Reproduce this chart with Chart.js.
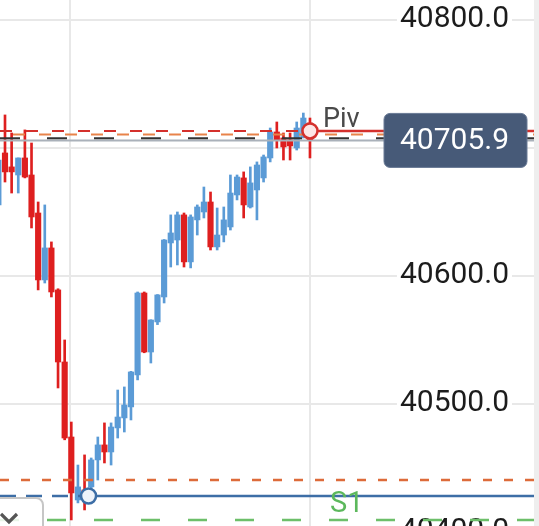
<!DOCTYPE html>
<html><head><meta charset="utf-8">
<script src="https://cdn.jsdelivr.net/npm/chart.js@4.4.0/dist/chart.umd.min.js"></script>
<style>
html,body{margin:0;padding:0;background:#eeeeee;overflow:hidden;width:539px;height:526px;}
#wrap{position:relative;width:539px;height:526px;overflow:hidden;}
#c{position:absolute;left:0;top:0;background:#ffffff;}
#btn{position:absolute;left:-12px;top:497px;width:52px;height:45px;border:2px solid #c6c6c6;border-radius:8px;background:rgba(255,255,255,0.85);}
#chev{position:absolute;left:0;top:510px;}
</style></head><body>
<div id="wrap">
<canvas id="c" width="534" height="560"></canvas>
<div id="btn"></div>
<svg id="chev" width="24" height="16"><polyline points="1,4 9,12 17,4" fill="none" stroke="#555" stroke-width="3.2"/></svg>
</div>
<script>
// candle index (time slot)
const candleIndex = [-1,0,1,2,3,4,5,6,7,8,9,10,11,12,13,14,15,16,17,18,19,20,21,22,23,24,25,26,27,28,29,30,31,32,33,34,35,36,37,38,39,40,41,42,43,44,45,46];
const opens  = [40655.5,40696.1,40685.2,40678.9,40692.2,40678.9,40649.2,40596.9,40621.9,40589.1,40532.8,40474.2,40425.0,40432.8,40435.2,40456.3,40468.0,40462.5,40481.3,40489.1,40497.7,40522.7,40586.7,40540.6,40564.1,40583.6,40625.8,40628.1,40647.7,40611.0,40643.8,40650.0,40657.8,40622.7,40632.0,40638.3,40663.3,40676.6,40653.9,40667.2,40676.6,40692.2,40712.5,40707.8,40706.3,40700.0,40708.6,40719.5];
const highs  = [40696.1,40725.8,40711.7,40692.2,40714.1,40703.9,40657.8,40655.5,40626.6,40590.0,40550.0,40485.9,40452.3,40460.2,40457.8,40474.2,40485.2,40485.2,40510.9,40513.3,40525.5,40587.5,40587.5,40565.8,40585.5,40628.5,40647.7,40650.0,40649.2,40647.7,40655.5,40669.5,40665.6,40653.1,40653.9,40678.9,40678.9,40681.3,40685.2,40689.1,40694.5,40715.6,40720.3,40711.7,40711.7,40720.3,40727.3,40723.4];
const lows   = [40650.0,40673.4,40664.8,40664.8,40676.6,40637.5,40589.1,40594.5,40583.6,40512.5,40472.0,40409.4,40422.7,40417.2,40430.5,40440.6,40453.9,40452.3,40473.4,40478.1,40487.5,40518.8,40540.0,40532.0,40562.0,40578.9,40607.0,40608.6,40607.0,40606.3,40632.0,40645.3,40620.3,40620.3,40626.6,40635.9,40659.4,40645.3,40653.1,40643.8,40673.4,40689.1,40700.0,40690.6,40690.6,40698.4,40707.8,40692.2];
const closes = [40690.6,40681.3,40681.3,40692.2,40677.3,40646.1,40596.9,40621.9,40587.5,40532.8,40473.4,40430.5,40435.2,40429.7,40456.3,40468.0,40462.5,40482.0,40489.8,40499.2,40525.0,40586.7,40540.6,40565.6,40585.2,40628.1,40633.6,40647.7,40611.0,40646.1,40653.9,40657.8,40622.7,40632.0,40643.8,40664.8,40677.3,40655.5,40672.7,40686.7,40693.0,40712.5,40706.3,40700.8,40701.6,40715.6,40723.4,40705.9];

// levels
const pivotValue = 40713.3;
const s1Value = 40428.1;
const pivotMarkerIndex = 46;
const s1MarkerIndex = 12.6;
const upperOrangeLevel = 40710.5;
const upperBlackLevel = 40707.6;
const currentPrice = 40705.9;
const lowerOrangeLevel = 40440.6;
const greenLevel = 40409.4;

// axes
const yTickValues = [40400, 40500, 40600, 40700, 40800];
const xGridValues = [9.8, 46];
const xMin = -0.754, xMax = 79.79;
const yMin = 40378.1, yMax = 40815.6;

const UP = '#5b9bd6', DOWN = '#de1f1f';
const colors = candleIndex.map((_, i) => closes[i] >= opens[i] ? UP : DOWN);
const bodies = candleIndex.map((x, i) => ({x, y: [opens[i], closes[i]]}));
const wicks = candleIndex.map((x, i) => ({x, y: [lows[i], highs[i]]}));
const hline = (v, a = xMin, b = xMax) => [{x: a, y: v}, {x: b, y: v}];

const lineDs = (data, color, width, dash, dashOffset) => ({
  type: 'line', data, borderColor: color, borderWidth: width, borderDash: dash || [],
  borderDashOffset: dashOffset || 0, pointRadius: 0, tension: 0, fill: false
});

const zeroFit = (w, h) => s => {
  if (w) s.width = 0;
  if (h) s.height = 0;
  s.paddingTop = 0; s.paddingBottom = 0; s.paddingLeft = 0; s.paddingRight = 0;
};

const overlay = {
  id: 'overlay',
  afterDraw(chart) {
    const {ctx, scales: {x, y}} = chart;
    ctx.save();
    ctx.font = '27px Roboto';
    ctx.fillStyle = '#4a4a4a';
    ctx.textAlign = 'left';
    ctx.textBaseline = 'alphabetic';
    ctx.fillText('Piv', x.getPixelForValue(pivotMarkerIndex) + 13, y.getPixelForValue(pivotValue) - 4);
    ctx.font = '29px Roboto';
    ctx.fillStyle = '#5cb85c';
    ctx.fillText('S1', x.getPixelForValue(pivotMarkerIndex) + 20, y.getPixelForValue(s1Value) + 16);
    const py = y.getPixelForValue(currentPrice);
    const bx = 384, bw = 143, bh = 54, by = py - bh / 2;
    ctx.beginPath();
    ctx.roundRect(bx, by, bw, bh, 6);
    ctx.fillStyle = '#475a78';
    ctx.fill();
    ctx.lineWidth = 1;
    ctx.strokeStyle = '#6a7b96';
    ctx.stroke();
    ctx.fillStyle = '#ffffff';
    ctx.font = '30px Roboto';
    ctx.textAlign = 'center';
    ctx.textBaseline = 'middle';
    ctx.fillText(currentPrice.toFixed(1), bx + bw / 2 - 1, py + 1);
    ctx.restore();
  }
};

new Chart(document.getElementById('c'), {
  type: 'bar',
  data: {
    datasets: [
      {type: 'line', data: [{x: pivotMarkerIndex, y: pivotValue}], showLine: false, pointRadius: 7.5,
       pointBackgroundColor: '#fde6e6', pointBorderColor: '#d4302c', pointBorderWidth: 2.5},
      {type: 'line', data: [{x: s1MarkerIndex, y: s1Value}], showLine: false, pointRadius: 7.5,
       pointBackgroundColor: '#eef3fa', pointBorderColor: '#3d6ea6', pointBorderWidth: 2.5},
      lineDs(hline(pivotValue, pivotMarkerIndex, xMax), '#d4302c', 2.5),
      lineDs(hline(pivotValue, xMin, pivotMarkerIndex), '#d4302c', 2, [12, 14], 0),
      lineDs(hline(upperOrangeLevel), '#e8834a', 2, [12, 14], 13),
      lineDs(hline(upperBlackLevel), '#333333', 2, [20, 27]),
      lineDs(hline(currentPrice), '#aab1ba', 2),
      lineDs(hline(s1Value, s1MarkerIndex, xMax), '#3d6ea6', 2.5),
      lineDs(hline(s1Value, xMin, s1MarkerIndex), '#3d6ea6', 2.5, [16, 10]),
      lineDs(hline(lowerOrangeLevel), '#dd6b3a', 2.5, [9, 12]),
      lineDs(hline(greenLevel), '#6dbf6a', 2.5, [19, 28]),
      {data: bodies, backgroundColor: colors, barThickness: 5.5, grouped: false, minBarLength: 2, borderWidth: 0},
      {data: wicks, backgroundColor: colors, barThickness: 2, grouped: false, borderWidth: 0}
    ]
  },
  options: {
    responsive: false,
    animation: false,
    layout: {padding: 0, autoPadding: false},
    plugins: {legend: {display: false}, tooltip: {enabled: false}},
    scales: {
      x: {
        type: 'linear', min: xMin, max: xMax, offset: false,
        grid: {color: '#e8e8e8', lineWidth: 2, drawTicks: false, offset: false},
        border: {display: false},
        ticks: {display: false},
        afterBuildTicks: s => { s.ticks = xGridValues.map(v => ({value: v})); },
        afterFit: zeroFit(false, true)
      },
      y: {
        type: 'linear', position: 'right', min: yMin, max: yMax,
        grid: {color: '#e8e8e8', lineWidth: 2, drawTicks: false},
        border: {display: false},
        afterBuildTicks: s => { s.ticks = yTickValues.map(v => ({value: v})); },
        afterFit: zeroFit(true, false),
        ticks: {
          mirror: true, padding: -25, color: '#1c1c1c',
          font: {family: 'Roboto', size: 30},
          callback: v => Number(v).toFixed(1),
          showLabelBackdrop: true, backdropColor: '#ffffff', backdropPadding: {x: 3, y: 0}
        }
      }
    }
  },
  plugins: [overlay]
});
</script>
</body></html>
